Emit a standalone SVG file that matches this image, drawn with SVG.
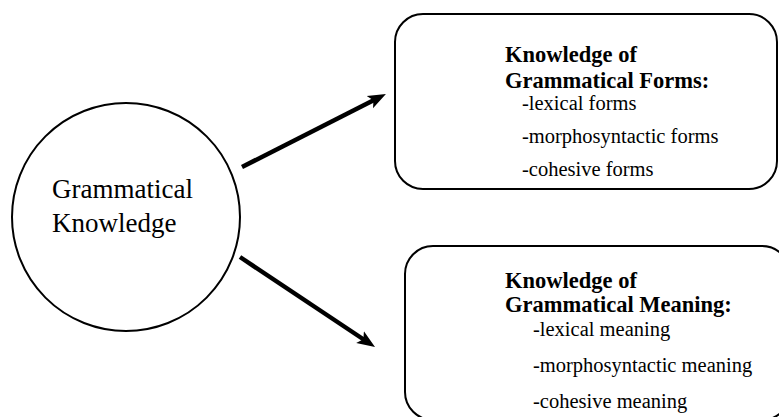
<svg xmlns="http://www.w3.org/2000/svg" width="779" height="417" viewBox="0 0 779 417">
<style>
.shape{fill:#fff;stroke:#000;stroke-width:2}
.c{font-family:"Liberation Serif","Times New Roman",serif;fill:#000}
.big{font-size:27px}
.b{font-size:22.5px;font-weight:bold}
.i{font-size:20.5px}
.arrow{stroke:#000;stroke-width:4.5;fill:none;marker-end:url(#head)}
</style>
<defs>
<marker id="head" markerUnits="userSpaceOnUse" markerWidth="20" markerHeight="16" viewBox="0 0 20 16" refX="8" refY="8" orient="auto">
<path d="M0,1 L18,8 L0,15 L4,8 Z" fill="#000"/>
</marker>
</defs>
<g id="grammatical-knowledge">
<circle class="shape" cx="126" cy="217" r="114"/>
<text class="c big" x="52" y="198">Grammatical</text>
<text class="c big" x="52" y="232">Knowledge</text>
</g>
<g id="forms">
<rect class="shape" x="395" y="14" width="382" height="175" rx="28" ry="28"/>
<text class="c b" x="505" y="62">Knowledge of</text>
<text class="c b" x="505" y="88">Grammatical Forms:</text>
<text class="c i" x="522" y="110">-lexical forms</text>
<text class="c i" x="522" y="143">-morphosyntactic forms</text>
<text class="c i" x="522" y="176">-cohesive forms</text>
</g>
<g id="meaning">
<rect class="shape" x="405" y="246" width="385" height="174" rx="28" ry="28"/>
<text class="c b" x="505" y="288">Knowledge of</text>
<text class="c b" x="505" y="312">Grammatical Meaning:</text>
<text class="c i" x="533" y="336">-lexical meaning</text>
<text class="c i" x="533" y="372">-morphosyntactic meaning</text>
<text class="c i" x="533" y="408">-cohesive meaning</text>
</g>
<g id="connectors">
<line class="arrow" x1="242" y1="167" x2="377" y2="98.5"/>
<line class="arrow" x1="240" y1="257" x2="366.7" y2="341.5"/>
</g>
</svg>
